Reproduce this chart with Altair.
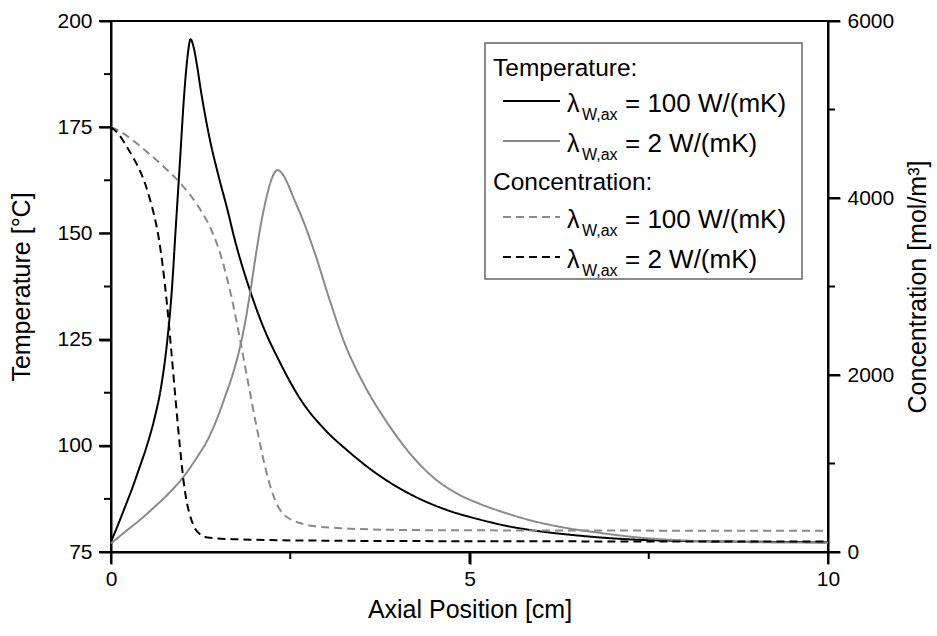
import altair as alt
import pandas as pd

# ---- data ----
x_t100 = [0, 0.1, 0.2, 0.3, 0.4, 0.5, 0.6, 0.7, 0.78, 0.85, 0.9, 0.96, 1.02, 1.07, 1.11, 1.15,
          1.2, 1.25, 1.3, 1.38, 1.5, 1.61, 1.75, 1.94, 2.1, 2.36, 2.64, 3.0, 3.29, 3.7, 4.21, 4.7,
          5.15, 5.5, 5.84, 6.5, 7.2, 8.0, 9.0, 10.0]
t100 = [77.4, 81.5, 85.8, 90.2, 95, 100, 106, 114, 124, 137, 150.5, 166.5, 182.5, 192, 195.7, 194,
        189.5, 184, 179, 172, 163.5, 156.5, 147, 136.5, 129, 119.5, 111, 103.5, 99, 93.5, 88.3, 84.8,
        82.6, 81.2, 80.2, 78.9, 78.0, 77.6, 77.4, 77.3]

x_t2 = [0, 0.2, 0.4, 0.6, 0.8, 1.01, 1.2, 1.35, 1.47, 1.6, 1.7, 1.8, 1.87, 1.94, 2.03, 2.1, 2.17,
        2.24, 2.32, 2.4, 2.47, 2.54, 2.68, 2.85, 3.05, 3.25, 3.52, 3.85, 4.22, 4.5, 4.8, 5.15, 5.5,
        5.84, 6.3, 6.82, 7.3, 8.0, 9.0, 10.0]
t2 = [77, 79.8, 82.5, 85.5, 88.7, 92.7, 97.3, 101.5, 106, 112, 117, 123.3, 129, 136, 146, 153, 158.6,
      162.8, 164.9, 163.8, 161.5, 158.6, 153, 145, 134.3, 124.5, 114.7, 105.5, 97.2, 92.5, 89.0, 86.3, 84.2,
      82.5, 80.8, 79.5, 78.5, 77.7, 77.3, 77.2]

x_c100 = [0, 0.1, 0.3, 0.5, 0.78, 1.0, 1.2, 1.38, 1.5, 1.61, 1.7, 1.8, 1.9, 2.03, 2.15, 2.26,
          2.33, 2.4, 2.54, 2.7, 2.82, 3.2, 4.0, 5.0, 10.0]
c100 = [4800, 4766, 4656, 4522, 4320, 4138, 3926, 3672, 3432, 3120, 2808, 2400, 1968, 1416, 960, 648,
        514, 432, 355, 312, 293, 269, 250, 245, 240]

x_c2 = [0, 0.1, 0.22, 0.32, 0.4, 0.48, 0.54, 0.6, 0.66, 0.72, 0.78, 0.84, 0.9, 0.96, 1.01, 1.06,
        1.1, 1.17, 1.24, 1.35, 1.47, 1.7, 1.94, 3.0, 5.0, 10.0]
c2 = [4800, 4728, 4579, 4440, 4315, 4152, 3994, 3811, 3576, 3240, 2808, 2280, 1728, 1200, 816, 552,
      418, 269, 202, 163, 154, 145, 139, 128, 122, 118]

series_names = ["T100", "T2", "C100", "C2"]
series_colors = ["#000000", "#8a8a8a", "#8a8a8a", "#000000"]
series_dashes = [[1, 0], [1, 0], [8, 5], [8, 5]]

temp_major = [75, 100, 125, 150, 175, 200]
temp_minor = [87.5, 112.5, 137.5, 162.5, 187.5]
conc_major = [0, 2000, 4000, 6000]
conc_minor = [1000, 3000, 5000]
x_major = [0, 5, 10]
x_minor = [2.5, 7.5]

legend_heads = ["Temperature:", "Concentration:"]
legend_values = ["= 100 W/(mK)", "= 2 W/(mK)", "= 100 W/(mK)", "= 2 W/(mK)"]

FONT = "Liberation Sans"

rows = []
for name, xs, vs in [("T100", x_t100, t100), ("T2", x_t2, t2), ("C100", x_c100, c100), ("C2", x_c2, c2)]:
    for a, b in zip(xs, vs):
        rows.append({"x": a, "v": b, "series": name})
df = pd.DataFrame(rows)
one = pd.DataFrame({"k": [0]})

color_enc = alt.Color("series:N", scale=alt.Scale(domain=series_names, range=series_colors), legend=None)
dash_enc = alt.StrokeDash("series:N", scale=alt.Scale(domain=series_names, range=series_dashes), legend=None)

x_scale = alt.Scale(domain=[0, 10], nice=False, zero=False)
x_axis = alt.Axis(
    values=x_major,
    title="Axial Position [cm]",
    labelFlush=False,
    labelOverlap=False,
    labelPadding=4,
    titlePadding=8,
    grid=False,
)
t_scale = alt.Scale(domain=[75, 200], nice=False, zero=False)
c_scale = alt.Scale(domain=[0, 6000], nice=False, zero=False)

temp = alt.Chart(df).transform_filter(
    alt.FieldOneOfPredicate(field="series", oneOf=["T100", "T2"])
).mark_line(strokeWidth=2, interpolate="monotone").encode(
    x=alt.X("x:Q", scale=x_scale, axis=x_axis),
    y=alt.Y(
        "v:Q",
        scale=t_scale,
        axis=alt.Axis(
            values=temp_major,
            title="Temperature [°C]",
            labelOverlap=False,
            labelPadding=7,
            titlePadding=22,
            grid=False,
        ),
    ),
    color=color_enc,
    strokeDash=dash_enc,
    detail="series:N",
)

conc = alt.Chart(df).transform_filter(
    alt.FieldOneOfPredicate(field="series", oneOf=["C100", "C2"])
).mark_line(strokeWidth=2, interpolate="monotone").encode(
    x=alt.X("x:Q", scale=x_scale, axis=x_axis),
    y=alt.Y(
        "v:Q",
        scale=c_scale,
        axis=alt.Axis(
            orient="right",
            values=conc_major,
            format="d",
            title="Concentration [mol/m³]",
            titleAngle=270,
            titleBaseline="top",
            labelOverlap=False,
            labelPadding=7,
            titlePadding=12,
            grid=False,
        ),
    ),
    color=color_enc,
    strokeDash=dash_enc,
    detail="series:N",
)

# ---- tick marks (outward; minor ones shorter), placed through the same scales ----
def y_ticks(vals, scale, x0, x1):
    return alt.Chart(pd.DataFrame({"v": vals})).mark_rule(color="black", strokeWidth=2).encode(
        y=alt.Y("v:Q", scale=scale, axis=None), x=alt.value(x0), x2=alt.value(x1)
    )

def x_ticks(vals, y0, y1):
    return alt.Chart(pd.DataFrame({"x": vals})).mark_rule(color="black", strokeWidth=2).encode(
        x=alt.X("x:Q", scale=x_scale, axis=x_axis), y=alt.value(y0), y2=alt.value(y1)
    )

tick_layers = [
    y_ticks(temp_major, t_scale, -12, 0),
    y_ticks(temp_minor, t_scale, -7, 0),
    y_ticks(conc_major, c_scale, 717, 729),
    y_ticks(conc_minor, c_scale, 717, 724),
    x_ticks(x_major, 531, 543),
    x_ticks(x_minor, 531, 538),
]

# ---- legend box (drawn in pixel space of the plot area) ----
legend_layers = []
legend_layers.append(
    alt.Chart(one).mark_rect(fillOpacity=0, stroke="#666666", strokeWidth=1.5).encode(
        x=alt.value(374), x2=alt.value(691), y=alt.value(22), y2=alt.value(258)
    )
)
head_y = [55, 169]
for txt, yy in zip(legend_heads, head_y):
    legend_layers.append(
        alt.Chart(one).mark_text(align="left", baseline="alphabetic", font=FONT, fontSize=24.5, color="black").encode(
            x=alt.value(382), y=alt.value(yy), text=alt.value(txt)
        )
    )
line_y = [80, 120, 196, 236]
for i, (txt, yy) in enumerate(zip(legend_values, line_y)):
    legend_layers.append(
        alt.Chart(one).mark_rule(
            color=series_colors[i], strokeWidth=2, strokeDash=series_dashes[i]
        ).encode(x=alt.value(392), x2=alt.value(449), y=alt.value(yy))
    )
    base = yy + 11
    legend_layers.append(
        alt.Chart(one).mark_text(align="left", baseline="alphabetic", font=FONT, fontSize=25, color="black").encode(
            x=alt.value(456), y=alt.value(base), text=alt.value("λ")
        )
    )
    legend_layers.append(
        alt.Chart(one).mark_text(align="left", baseline="alphabetic", font=FONT, fontSize=16, color="black").encode(
            x=alt.value(471), y=alt.value(base + 8), text=alt.value("W,ax")
        )
    )
    legend_layers.append(
        alt.Chart(one).mark_text(align="left", baseline="alphabetic", font=FONT, fontSize=26, color="black").encode(
            x=alt.value(514), y=alt.value(base), text=alt.value(txt)
        )
    )

chart = alt.layer(temp, conc, *tick_layers, *legend_layers).resolve_scale(
    y="independent"
).properties(
    width=717,
    height=531,
    autosize=alt.AutoSizeParams(type="none"),
    padding={"left": 111, "top": 21, "right": 109, "bottom": 84},
    background="white",
).configure_view(
    stroke="black", strokeWidth=2
).configure_axis(
    domainColor="black",
    domainWidth=2,
    tickColor="black",
    tickWidth=2,
    tickSize=12,
    labelFont=FONT,
    labelFontSize=21,
    labelColor="black",
    titleFont=FONT,
    titleFontSize=25,
    titleFontWeight="normal",
    titleColor="black",
)

chart.save("out.html", embed_options={"renderer": "svg", "actions": False})
